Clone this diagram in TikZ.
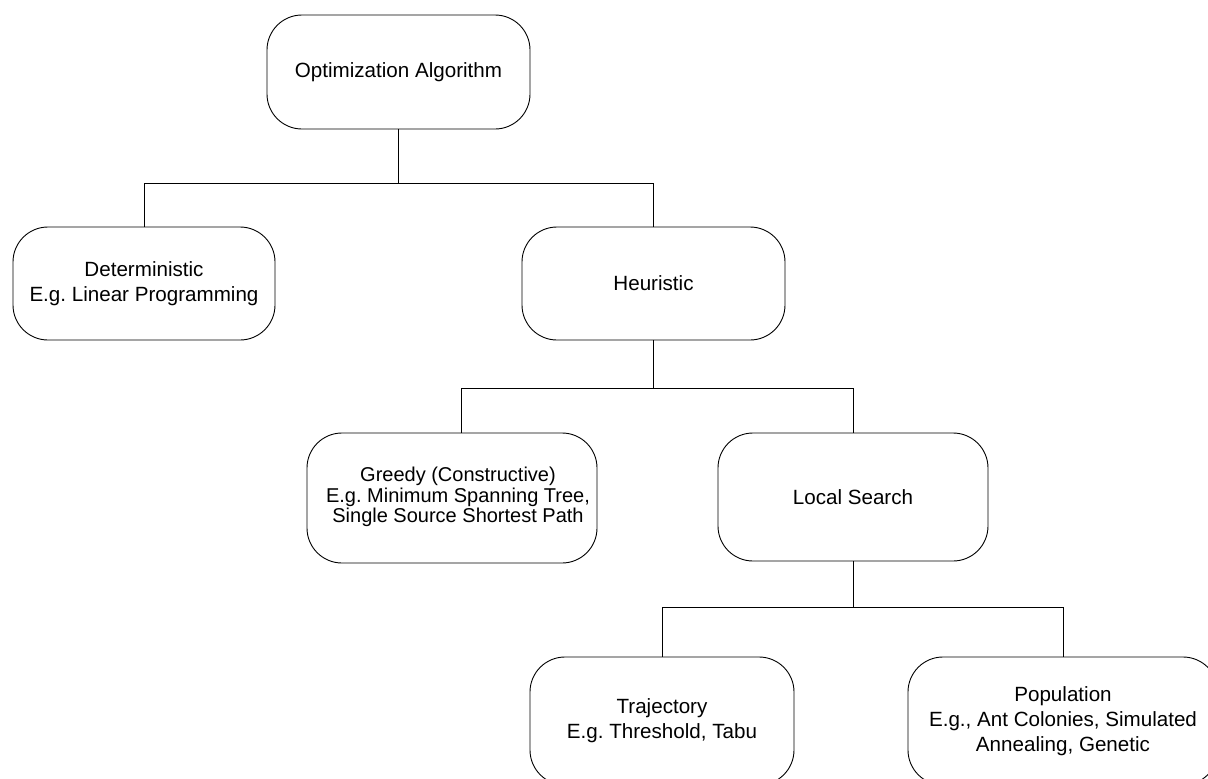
\documentclass[tikz,border=0pt]{standalone}
\usepackage{fontspec}
\setmainfont{Liberation Sans}
\frenchspacing
\begin{document}
\begin{tikzpicture}[x=1pt,y=-1pt,
  every node/.style={font=\fontsize{20.6}{24.7}\selectfont, align=center},
  box/.style={draw, line width=0.9pt, rounded corners=35pt, inner sep=0pt},
  link/.style={line width=0.9pt}
]
\useasboundingbox (0,0) rectangle (1208,779);
\clip (0,0) rectangle (1208,779);

% level 0
\node[box, minimum width=263pt, minimum height=114pt] (opt) at (398.5,72) {Optimization Algorithm};

% level 1
\node[box, minimum width=262pt, minimum height=113pt] (det) at (144,283.5) {Deterministic\\E.g. Linear Programming};
\node[box, minimum width=263pt, minimum height=113pt] (heu) at (653.5,283.5) {Heuristic};

% level 2
\node[box, minimum width=290pt, minimum height=130pt] (greedy) at (452,498) {};
\node[font=\fontsize{20}{20.8}\selectfont] (greedytext) at (458,497)
  {Greedy (Constructive)\\E.g. Minimum Spanning Tree,\\Single Source Shortest Path};
\node[box, minimum width=270pt, minimum height=128pt] (local) at (853,497) {Local Search};

% level 3
\node[box, minimum width=264pt, minimum height=128pt] (traj) at (662,721) {Trajectory\\E.g. Threshold, Tabu};
\node[box, minimum width=310pt, minimum height=128pt] (pop) at (1063,721) {Population\\E.g., Ant Colonies, Simulated\\Annealing, Genetic};

% junction heights of the tree branches
\coordinate (j1) at (398,183);
\coordinate (j2) at (653,388);
\coordinate (j3) at (853,607);
\coordinate (gtop) at (461,433);

\draw[link] (opt.south) -- (opt.south |- j1);
\draw[link] (det.north) -- (det.north |- j1) -- (heu.north |- j1) -- (heu.north);

\draw[link] (heu.south) -- (heu.south |- j2);
\draw[link] (gtop) -- (gtop |- j2) -- (local.north |- j2) -- (local.north);

\draw[link] (local.south) -- (local.south |- j3);
\draw[link] (traj.north) -- (traj.north |- j3) -- (pop.north |- j3) -- (pop.north);
\end{tikzpicture}
\end{document}
